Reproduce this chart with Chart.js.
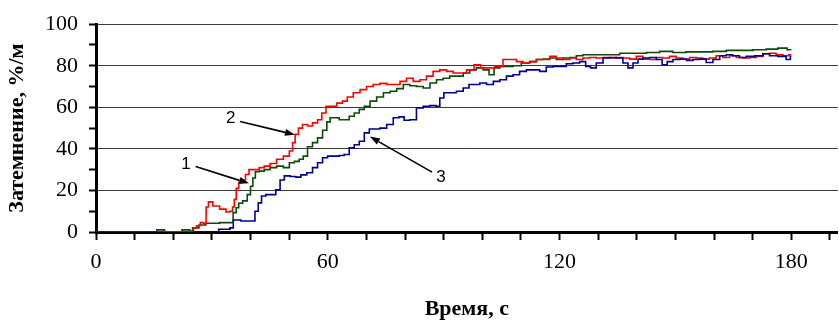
<!DOCTYPE html>
<html>
<head>
<meta charset="utf-8">
<script src="https://cdn.jsdelivr.net/npm/chart.js@4.4.1/dist/chart.umd.min.js"></script>
<style>
    body { margin: 0; background: #fff; }
</style>
</head>
<body>
<canvas id="grafica" width="839" height="323"></canvas>
<script>
// serie 1 (verde)
const time1 = [0, 15.5, 16, 17.5, 18, 22, 22.5, 24, 24.5, 25.5, 27.8, 29, 35, 36, 36.6, 37.3, 38.6, 39.7, 40.3, 40.9,
    41.6, 42.9, 44.2, 45.9, 47.6, 49.4, 50.7, 52, 53.2, 54.1, 55.4, 56.7, 58, 59.3, 60.2, 61, 62.3, 63.6, 64.9, 66.2,
    67.5, 68.8, 70.1, 71.8, 73.5, 75.3, 77, 78.7, 80.4, 82.1, 83.8, 85.6, 87.3, 89, 90.7, 92.4, 94.2, 95.9, 97.6, 99.3,
    101.1, 102.4, 103.7, 105.4, 107.1, 108.8, 111.4, 113.1, 114.9, 116.6, 118.3, 120, 121.8, 123.5, 125.2, 126.9, 130.4, 133.8, 137.3, 140.7,
    144.2, 147.6, 151, 154.5, 157.9, 161.4, 164.9, 168.3, 171.8, 175.2, 177.8, 180];
const smoke1 = [0, 0, 1, 1, 0, 0, 1, 1, 0.5, 2, 3.4, 4.2, 4.5, 9.3, 11.7, 13.8, 15, 18, 22, 26,
    29, 29.3, 30, 31, 31.7, 31, 33.3, 34, 35, 36.5, 41, 43, 45.3, 49, 53, 55, 55, 54, 54, 55.7,
    57.3, 59, 60.5, 63, 65, 67, 67.7, 69, 71, 70.4, 70, 69.3, 71.7, 73.3, 74, 75, 75, 76.5, 78, 79,
    78, 75.7, 79, 79.7, 79.7, 80, 81.3, 82, 83, 83.2, 83.7, 83, 83.7, 84, 84.8, 85.3, 85.3, 85.3, 86, 86,
    86.4, 86.9, 86.4, 86.7, 86.7, 86.9, 87.4, 87.4, 87.7, 88, 88.5, 87.7];

// serie 2 (roja)
const time2 = [16, 25, 25.5, 26.5, 27.5, 28.3, 28.7, 29.5, 31, 33, 34.3, 35.1, 35.6, 36, 36.6, 37.3, 38.2, 39.2, 40, 41.6,
    42.9, 44.2, 45.9, 47.6, 49.4, 50.7, 51.1, 52, 52.8, 54.1, 55.4, 56.7, 58, 58.9, 60.2, 61.4, 63.2, 64.4, 65.7, 67.5,
    69.2, 70.9, 72.6, 74.4, 76.1, 77.8, 79.6, 81.2, 83, 84.7, 86.4, 88.1, 89.9, 91.6, 93.3, 95, 96.8, 98.9, 100.2, 102,
    104.5, 106.2, 108, 109.7, 111.4, 113.1, 114.9, 116.6, 118.3, 120, 121.8, 123.5, 125.2, 126.9, 128.6, 130.4, 132.1, 133.8, 135.5, 137.3,
    139, 140.7, 142.4, 144.2, 145.9, 147.6, 149.3, 151, 152.8, 154.5, 156.2, 157.9, 159.7, 161.4, 163.1, 164.9, 166.6, 168.3, 170, 171.8,
    173.5, 175.2, 176.9, 178.7, 180];
const smoke2 = [0, 0, 2, 3, 4.5, 4, 12, 14.5, 12.5, 11, 9.6, 10, 12, 15.7, 21, 23.7, 25, 27.7, 30, 30,
    31, 31.7, 33, 35, 36.5, 39, 43, 47, 50, 51.7, 51, 52.5, 54, 57.3, 60.5, 60.5, 62, 63, 65, 67,
    68.5, 70, 71, 71.5, 71, 71, 72.5, 74, 72.5, 73.3, 75, 77.3, 78, 77.3, 76.5, 76.5, 78, 80.5, 79, 79,
    79.7, 83, 83, 82, 81.3, 82, 83, 83, 84.5, 83.7, 83, 83.7, 83, 83.7, 84, 83.7, 84, 83.7, 84, 83.7,
    83.2, 84.5, 83.2, 83, 84, 83.7, 84.5, 83.7, 83.2, 84, 83.7, 83.2, 83.7, 84.8, 84, 84.8, 84, 83.7, 84, 84.5,
    85.8, 86, 85.3, 84.8, 85.3];

// serie 3 (azul)
const time3 = [25, 31.5, 32, 34.3, 35.1, 36, 39, 40.7, 41.6, 42.4, 43.3, 44.6, 45.9, 47.2, 48.1, 49.4, 51.1, 52.4, 53.7, 55.4,
    56.7, 58, 59.3, 60.6, 62.3, 63.6, 64.9, 66.2, 67.5, 68.8, 70.1, 71.4, 72.6, 74.4, 76.1, 77.8, 79.1, 80.4, 82.1, 83.8,
    85.6, 87.3, 88.6, 89.4, 90.7, 92.4, 94.2, 95.9, 97.2, 98.5, 100.2, 102, 103.7, 105.4, 107.1, 108.8, 110.5, 112.3, 114, 115.7,
    117.4, 119.2, 120.9, 122.6, 124.3, 126.1, 127.4, 128.6, 130.4, 132.1, 133.8, 135.5, 137.3, 138.1, 139.9, 140.7, 142.4, 144.2, 145.9, 147.2,
    148.5, 150.2, 152, 153.7, 155.4, 157.1, 158.8, 160.6, 162.3, 164, 165.7, 167.4, 169.2, 171.8, 173.5, 175.2, 177.8, 179.5, 180];
const smoke3 = [0, 0, 1.3, 1.3, 2, 5.8, 5.3, 5.3, 10, 14, 17.3, 18, 18, 20.3, 25, 27, 26.7, 26.4, 27.5, 28.5,
    31, 33.3, 35.7, 36.5, 36.5, 36.8, 37.3, 40.5, 42, 43.7, 47.7, 49.6, 49.6, 50, 51.7, 55, 55.4, 53.8, 54, 59.7,
    60.5, 60.8, 60.5, 64.5, 67, 67, 67.7, 69.3, 71, 71, 71.7, 71, 72.5, 73.3, 75, 75.7, 77.3, 78, 78, 77.3,
    79.4, 79.7, 79.7, 81, 81.3, 82, 79.7, 79, 81.3, 83.7, 84, 83.7, 81.3, 79, 81.3, 83.2, 83.7, 84, 83, 80.5,
    82, 83, 83.2, 82.6, 83, 83.2, 81.6, 83, 84.8, 85.3, 84.8, 84, 84.5, 84.8, 85.8, 84.8, 84.5, 83, 84.5];

// etiquetas con flecha: texto, posicion del texto, inicio y punta de la flecha (en unidades de datos)
const tagText = ["1", "2", "3"];
const tagAt = [[23.3, 32.5], [34.9, 54.5], [89.3, 26.2]];
const arrowFrom = [[25.8, 31.5], [37.3, 53.2], [87, 28.8]];
const arrowTo = [[39.6, 23.4], [51.5, 46.8], [70.9, 45.9]];

function puntos(t, v) {
    return t.map((x, i) => ({ x: x, y: v[i] }));
}

const flechas = {
    id: "flechas",
    afterDatasetsDraw(chart) {
        const ctx = chart.ctx;
        const sx = chart.scales.x;
        const sy = chart.scales.y;
        ctx.save();
        ctx.font = '17px "Liberation Sans"';
        ctx.fillStyle = "#000";
        ctx.strokeStyle = "#000";
        ctx.lineWidth = 1.6;
        ctx.textAlign = "center";
        ctx.textBaseline = "middle";
        for (let i = 0; i < tagText.length; i++) {
            ctx.fillText(tagText[i], sx.getPixelForValue(tagAt[i][0]), sy.getPixelForValue(tagAt[i][1]));
            const x0 = sx.getPixelForValue(arrowFrom[i][0]), y0 = sy.getPixelForValue(arrowFrom[i][1]);
            const x1 = sx.getPixelForValue(arrowTo[i][0]), y1 = sy.getPixelForValue(arrowTo[i][1]);
            const a = Math.atan2(y1 - y0, x1 - x0);
            const c = Math.cos(a), s = Math.sin(a);
            const len = 10, w = 3.5;
            ctx.beginPath();
            ctx.moveTo(x0, y0);
            ctx.lineTo(x1 - len * c, y1 - len * s);
            ctx.stroke();
            ctx.beginPath();
            ctx.moveTo(x1, y1);
            ctx.lineTo(x1 - len * c + w * s, y1 - len * s - w * c);
            ctx.lineTo(x1 - len * c - w * s, y1 - len * s + w * c);
            ctx.closePath();
            ctx.fill();
        }
        ctx.restore();
    }
};

const serif = "'Liberation Serif', 'Times New Roman', serif";

new Chart(document.getElementById("grafica").getContext("2d"), {
    type: "line",
    data: {
        datasets: [
            { data: puntos(time3, smoke3), borderColor: "#000090" },
            { data: puntos(time2, smoke2), borderColor: "#ff0000" },
            { data: puntos(time1, smoke1), borderColor: "#0b4a0b" }
        ]
    },
    options: {
        responsive: false,
        animation: false,
        devicePixelRatio: 1,
        layout: { padding: { top: 23, right: 0, left: 0, bottom: 0 } },
        elements: {
            point: { radius: 0 },
            line: { borderWidth: 1.6, tension: 0, stepped: "middle" }
        },
        scales: {
            x: {
                type: "linear",
                min: 0,
                max: 192,
                border: { color: "#000", width: 3 },
                grid: { drawOnChartArea: false, tickLength: 8, tickWidth: 2, tickColor: "#000" },
                ticks: {
                    stepSize: 10,
                    autoSkip: false,
                    includeBounds: false,
                    maxRotation: 0,
                    padding: 9,
                    color: "#000",
                    font: { family: serif, size: 22 },
                    callback: v => (v % 60 === 0 ? v : "")
                },
                title: {
                    display: true,
                    text: "Время, с",
                    color: "#000",
                    font: { family: serif, size: 22, weight: "bold" },
                    padding: { top: 0, bottom: 0 }
                },
                afterFit: s => { s.height = 91; }
            },
            y: {
                min: 0,
                max: 100,
                border: { color: "#000", width: 3 },
                grid: {
                    color: c => (c.tick && c.tick.value % 20 === 0 ? "#3a3a3a" : "rgba(0,0,0,0)"),
                    lineWidth: 1,
                    tickLength: 7,
                    tickWidth: 2,
                    tickColor: "#000"
                },
                ticks: {
                    stepSize: 10,
                    autoSkip: false,
                    padding: 11,
                    color: "#000",
                    font: { family: serif, size: 22 },
                    callback: v => (v % 20 === 0 ? v : "")
                },
                title: {
                    display: true,
                    text: "Затемнение, %/м",
                    color: "#000",
                    font: { family: serif, size: 22, weight: "bold" },
                    padding: { top: 4, bottom: 0 }
                },
                afterFit: s => { s.width = 96; }
            }
        },
        plugins: {
            legend: { display: false },
            tooltip: { enabled: false }
        }
    },
    plugins: [flechas]
});
</script>
</body>
</html>
